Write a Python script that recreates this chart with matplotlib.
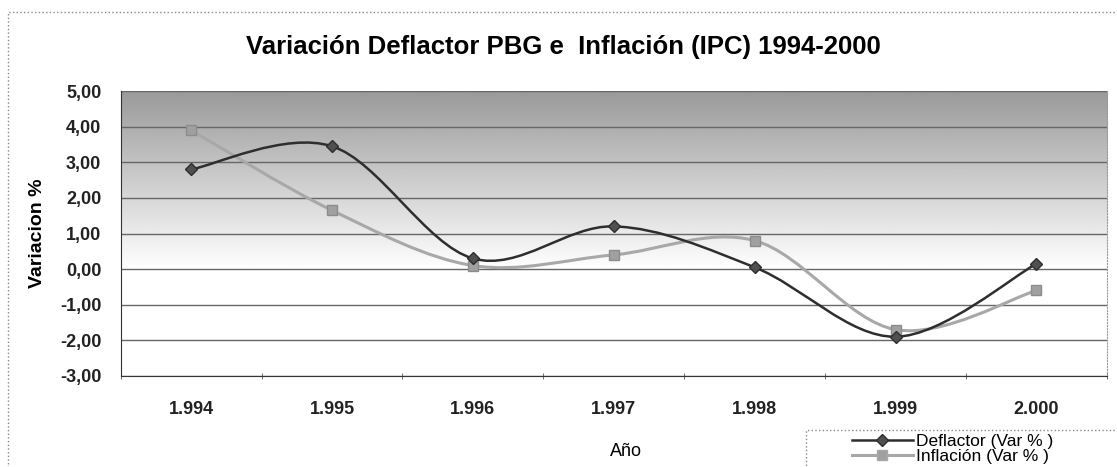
import numpy as np
import matplotlib
matplotlib.use("Agg")
from matplotlib import pyplot as plt
from matplotlib.path import Path
from matplotlib.patches import PathPatch, Rectangle
from matplotlib.lines import Line2D

plt.rcParams["font.family"] = ["Liberation Sans", "DejaVu Sans"]

years = ["1.994", "1.995", "1.996", "1.997", "1.998", "1.999", "2.000"]
deflactor = [2.80, 3.45, 0.30, 1.20, 0.05, -1.90, 0.15]
inflacion = [3.90, 1.65, 0.10, 0.40, 0.80, -1.70, -0.60]
yticks = [5, 4, 3, 2, 1, 0, -1, -2, -3]


def smooth_path(x, y, tension=1 / 6):
    # Catmull-Rom style bezier segments, like the smoothed lines of a spreadsheet
    x = np.asarray(x, float)
    y = np.asarray(y, float)
    verts = [(x[0], y[0])]
    codes = [Path.MOVETO]
    n = len(x)
    for i in range(n - 1):
        x0, y0 = (x[i - 1], y[i - 1]) if i > 0 else (x[i], y[i])
        x3, y3 = (x[i + 2], y[i + 2]) if i + 2 < n else (x[i + 1], y[i + 1])
        c1 = (x[i] + (x[i + 1] - x0) * tension, y[i] + (y[i + 1] - y0) * tension)
        c2 = (x[i + 1] - (x3 - x[i]) * tension, y[i + 1] - (y3 - y[i]) * tension)
        verts += [c1, c2, (x[i + 1], y[i + 1])]
        codes += [Path.CURVE4] * 3
    return Path(verts, codes)


fig = plt.figure(figsize=(11.17, 4.67), dpi=100)
ax = fig.add_axes([0.108, 0.195, 0.883, 0.61])

xs = np.arange(len(years))
ax.set_xlim(-0.5, len(years) - 0.5)
ax.set_ylim(-3, 5)

# grey shading above zero, dark at the top and fading to white at zero
grad = np.linspace(0.6, 1.0, 256).reshape(-1, 1)
ax.imshow(grad, cmap="gray", vmin=0, vmax=1, aspect="auto", origin="upper",
          extent=(-0.5, len(years) - 0.5, 0, 5), zorder=0)

for v in yticks:
    ax.axhline(v, color="#666666", lw=1.0, zorder=1)

ax.add_patch(PathPatch(smooth_path(xs, inflacion), fill=False,
                       edgecolor="#a8a8a8", lw=2.2, zorder=3))
ax.plot(xs, inflacion, ls="none", marker="s", ms=7, color="#a0a0a0",
        mec="#8c8c8c", zorder=4)
ax.add_patch(PathPatch(smooth_path(xs, deflactor), fill=False,
                       edgecolor="#2e2e2e", lw=1.8, zorder=5))
ax.plot(xs, deflactor, ls="none", marker="D", ms=6, color="#505050",
        mec="#2e2e2e", zorder=6)

ax.set_yticks(yticks)
ax.set_yticklabels([f"{v:.2f}".replace(".", ",") for v in yticks],
                   fontsize=13, fontweight="bold", color="#222222")
ax.set_xticks(xs)
ax.set_xticklabels(years, fontsize=13, fontweight="bold", color="#222222")
ax.set_xticks(np.arange(len(years) + 1) - 0.5, minor=True)
ax.tick_params(axis="x", which="major", length=0, pad=18)
ax.tick_params(axis="x", which="minor", length=4, direction="inout", color="#555555")
ax.tick_params(axis="y", length=0, pad=14)

ax.spines["top"].set_visible(False)
ax.spines["right"].set_color("#999999")
ax.spines["right"].set_linestyle(":")
ax.spines["left"].set_color("#333333")
ax.spines["bottom"].set_color("#333333")

ax.set_ylabel("Variacion %", fontsize=14, fontweight="bold", labelpad=10)
ax.set_xlabel("Año", fontsize=13)
ax.xaxis.set_label_coords(0.512, -0.235)

fig.text(0.504, 0.9, "Variación Deflactor PBG e  Inflación (IPC) 1994-2000",
         ha="center", va="center", fontsize=18.5, fontweight="bold")

# dotted frame around the chart
fig.add_artist(Rectangle((0.007, -0.01), 1.0, 0.985, transform=fig.transFigure,
                         fill=False, ls=":", lw=1.0, edgecolor="#888888"))
# legend box, running past the lower right corner
fig.add_artist(Rectangle((806 / 1117, -0.05), 0.3, 0.05 + 37 / 467,
                         transform=fig.transFigure, fill=False, ls=":",
                         lw=1.0, edgecolor="#888888"))

handles = [
    Line2D([], [], color="#2e2e2e", lw=1.8, marker="D", ms=6, mfc="#505050"),
    Line2D([], [], color="#a8a8a8", lw=2.2, marker="s", ms=7, mfc="#a0a0a0"),
]
leg = fig.legend(handles, ["Deflactor (Var % )", "Inflación (Var % )"],
                 loc="upper left", bbox_to_anchor=(852 / 1117, 1 - 434 / 467),
                 fontsize=12.5, frameon=False, borderpad=0, borderaxespad=0,
                 handlelength=3.5, handletextpad=0.2, labelspacing=0.0)

fig.savefig("out.png", dpi=100)
